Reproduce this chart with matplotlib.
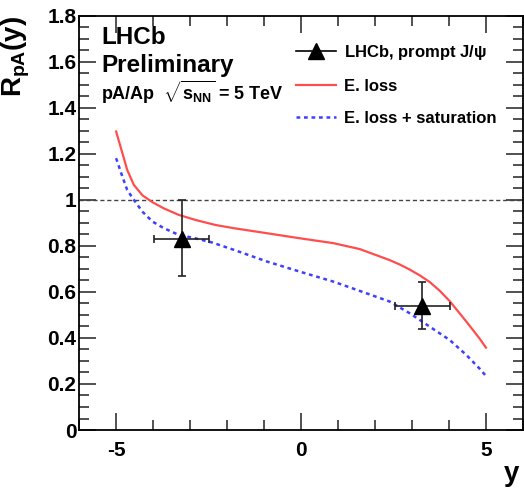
import numpy as np
import matplotlib
matplotlib.use("Agg")
import matplotlib.pyplot as plt
from matplotlib.ticker import MultipleLocator, FuncFormatter
from matplotlib.lines import Line2D

plt.rcParams['font.family'] = ['Liberation Sans', 'DejaVu Sans']
plt.rcParams['font.weight'] = 'bold'
plt.rcParams['axes.unicode_minus'] = False
plt.rcParams['mathtext.fontset'] = 'custom'
plt.rcParams['mathtext.rm'] = 'Liberation Sans:bold'
plt.rcParams['mathtext.bf'] = 'Liberation Sans:bold'
plt.rcParams['mathtext.it'] = 'Liberation Sans:bold'

# LHCb prompt J/psi points
data_y = [-3.23, 3.28]
data_r = [0.83, 0.54]
data_xerr = [0.75, 0.75]
data_rerr_lo = [0.16, 0.10]
data_rerr_hi = [0.17, 0.105]

# E. loss curve
eloss_y = [-5.0, -4.83, -4.70, -4.52, -4.29, -4.02, -3.71, -3.31, -2.86, -2.32,
           -1.82, -0.92, -0.03, 0.87, 1.59, 2.13, 2.40, 2.67, 2.94, 3.21,
           3.48, 3.75, 4.02, 4.47, 4.82, 5.0]
eloss_r = [1.297, 1.203, 1.130, 1.065, 1.020, 0.990, 0.963, 0.935, 0.913, 0.891,
           0.877, 0.855, 0.833, 0.812, 0.786, 0.754, 0.738, 0.719, 0.697, 0.672,
           0.643, 0.605, 0.560, 0.471, 0.399, 0.358]

# E. loss + saturation curve
sat_y = [-5.0, -4.83, -4.70, -4.52, -4.29, -4.02, -3.71, -3.31, -2.86, -2.41,
         -1.82, -0.92, -0.03, 0.87, 1.77, 2.40, 2.94, 3.48, 4.02, 4.47,
         4.82, 5.0]
sat_r = [1.181, 1.101, 1.043, 1.0, 0.949, 0.906, 0.877, 0.848, 0.833, 0.815,
         0.783, 0.732, 0.688, 0.645, 0.594, 0.558, 0.507, 0.449, 0.391, 0.326,
         0.268, 0.235]

fig = plt.figure(figsize=(5.24, 4.92), dpi=100)
ax = fig.add_axes([0.151, 0.126, 0.847, 0.842])

ax.axhline(1.0, color='#444444', ls=(0, (3, 2)), lw=1.0)

l_el, = ax.plot(eloss_y, eloss_r, color='#ff4d4d', lw=1.6)
l_sat, = ax.plot(sat_y, sat_r, color='#3f3fff', lw=1.8, ls=(0, (1.5, 1.5)))
ax.errorbar(data_y, data_r, xerr=data_xerr, yerr=[data_rerr_lo, data_rerr_hi],
            fmt='^', color='black', ms=12, ecolor='#222222', elinewidth=1.2,
            capsize=3, capthick=1.2, zorder=5)

ax.set_xlim(-6, 6)
ax.set_ylim(0, 1.8)
ax.xaxis.set_major_locator(MultipleLocator(5))
ax.xaxis.set_minor_locator(MultipleLocator(1))
ax.yaxis.set_major_locator(MultipleLocator(0.2))
ax.yaxis.set_minor_locator(MultipleLocator(0.05))
ax.yaxis.set_major_formatter(FuncFormatter(lambda v, p: '%g' % round(v, 2)))
ax.tick_params(which='both', direction='in', top=True, right=True,
               color='#333333', width=1.2)
ax.tick_params(which='major', length=12, labelsize=15)
ax.tick_params(which='minor', length=7)
ax.tick_params(axis='x', pad=8)
ax.tick_params(axis='y', pad=2)
for s in ax.spines.values():
    s.set_linewidth(1.3)

h_data = Line2D([], [], color='black', marker='^', ms=12, lw=1.2)
ax.legend([h_data, l_el, l_sat],
          [r'LHCb, prompt J/$\psi$', 'E. loss', 'E. loss + saturation'],
          loc='upper left', bbox_to_anchor=(0.455, 0.97), frameon=False,
          fontsize=12, handlelength=2.4, handletextpad=0.5, labelspacing=1.0)

ax.text(0.05, 0.976, 'LHCb', transform=ax.transAxes, fontsize=17.5,
        va='top', ha='left')
ax.text(0.05, 0.908, 'Preliminary', transform=ax.transAxes, fontsize=17.5,
        va='top', ha='left')
ax.text(0.05, 0.848, r'pA/Ap  $\sqrt{s_{NN}}$ = 5 TeV', transform=ax.transAxes,
        fontsize=13, va='top', ha='left')

fig.text(0.03, 0.968, r'$R_{pA}(y)$', rotation=90, fontsize=20,
         ha='center', va='top')
fig.text(0.99, 0.01, 'y', fontsize=20, ha='right', va='bottom')

fig.savefig('out.png', dpi=100)
